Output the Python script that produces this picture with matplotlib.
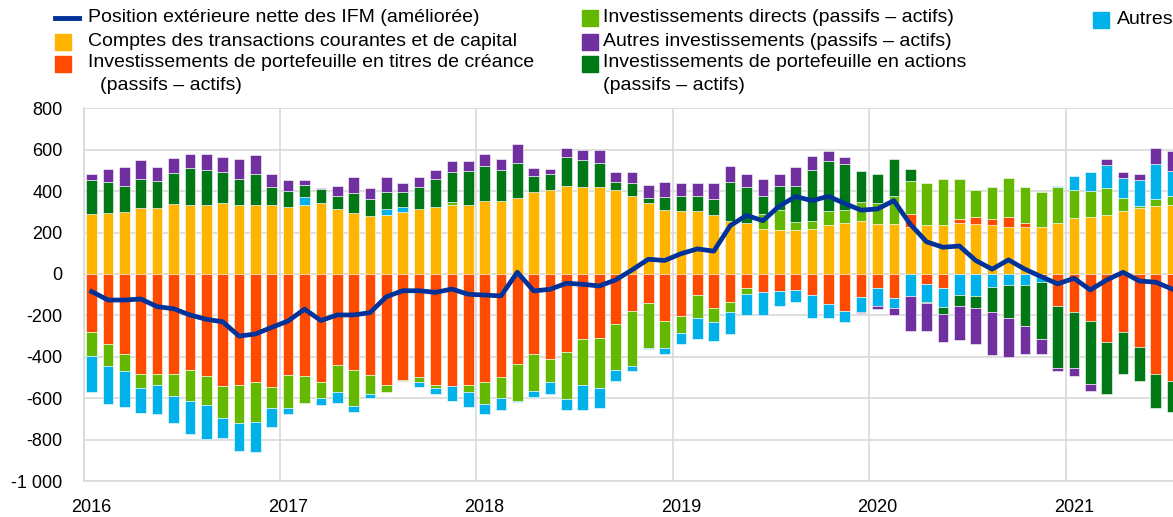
import numpy as np
import pandas as pd
import matplotlib
matplotlib.use('agg')
import matplotlib.pyplot as plt
from matplotlib.patches import Rectangle
from matplotlib.lines import Line2D

plt.rcParams['font.family'] = ['Liberation Sans', 'DejaVu Sans']

## Data (EUR bn), monthly 2016-01 .. 2021-07
months = pd.date_range('2016-01-01', '2021-07-01', freq='MS')

current_capital = [289, 294, 300, 318, 318, 340, 335, 335, 342, 335, 335, 335,
                   324, 335, 342, 313, 294, 282, 287, 300, 313, 323, 335, 335,
                   353, 353, 365, 395, 406, 424, 419, 419, 406, 376, 342, 311,
                   305, 305, 287, 258, 245, 218, 210, 210, 218, 234, 245, 258,
                   240, 240, 229, 234, 234, 245, 240, 234, 227, 227, 227, 247,
                   269, 276, 287, 305, 318, 329, 335]
portfolio_debt = [-279, -339, -387, -481, -481, -481, -465, -494, -542, -537, -524, -548,
                  -489, -494, -524, -440, -465, -489, -537, -513, -500, -537, -542, -537,
                  -524, -500, -433, -387, -411, -376, -316, -310, -244, -179, -142, -226,
                  -203, -102, -166, -135, -69, -89, -82, -77, -100, -147, -177, -111,
                  -69, -118, 60, -47, -69, 19, 35, 31, 48, 19, -10, -153,
                  -184, -226, -327, -279, -352, -482, -518]
direct_inv = [-115, -106, -84, -68, -56, -108, -150, -137, -153, -182, -190, -100,
              -160, -129, -74, -131, -173, -89, -34, -5, -24, -16, 11, -34,
              -102, -97, -180, -179, -113, -226, -221, -239, -221, -268, -216, -131,
              -82, -113, -65, -48, -29, 71, 100, 42, 40, 71, 65, 90,
              102, 137, 161, 203, 226, 195, 131, 155, 190, 173, 168, 173,
              137, 126, 126, 61, 11, 35, 42]
others = [-176, -184, -171, -123, -140, -131, -158, -166, -95, -135, -148, -89,
          -29, 35, -35, -52, -29, -21, 29, 23, -23, -29, -71, -71,
          -52, -61, -5, -29, -58, -53, -118, -100, -53, -23, -5, -31,
          -53, -100, -95, -106, -100, -110, -71, -58, -113, -66, -53, -71,
          -84, -48, -106, -88, -92, -102, -106, -65, -53, -53, -30, 6,
          66, 89, 113, 95, 126, 168, 119]
portfolio_equity = [166, 150, 126, 142, 131, 148, 179, 166, 148, 124, 150, 84,
                    77, 58, 66, 65, 97, 79, 79, 73, 105, 137, 144, 161,
                    168, 150, 171, 77, 77, 139, 131, 118, 37, 61, 23, 60,
                    73, 73, 73, 185, 173, 89, 116, 174, 244, 239, 221, 150,
                    142, 177, 58, -7, -32, -52, -60, -119, -160, -197, -276, -303,
                    -269, -305, -255, -203, -166, -166, -148]
other_inv = [29, 65, 90, 90, 66, 74, 65, 77, 73, 97, 89, 66,
             53, 26, 5, 48, 77, 52, 73, 42, 48, 42, 55, 48,
             60, 53, 92, 42, 24, 47, 47, 60, 47, 53, 66, 71,
             60, 60, 77, 77, 66, 82, 58, 89, 66, 48, 32, -6,
             -16, -34, -171, -135, -137, -166, -173, -208, -190, -135, -69, -11,
             -40, -34, 31, 29, 29, 77, 100]
net_position = [-85, -126, -126, -121, -158, -168, -198, -219, -231, -300, -290, -258,
                -227, -170, -225, -198, -198, -187, -110, -81, -81, -89, -73, -98,
                -102, -106, 8, -82, -74, -45, -50, -58, -29, 19, 71, 65,
                98, 121, 110, 233, 283, 257, 328, 374, 354, 375, 340, 308,
                314, 354, 240, 155, 129, 135, 65, 23, 68, 23, -13, -48,
                -21, -77, -29, 8, -34, -40, -73]

series = [
    (current_capital, '#FFB400'),
    (portfolio_debt, '#FF4B00'),
    (direct_inv, '#65B800'),
    (others, '#00B1EA'),
    (portfolio_equity, '#007816'),
    (other_inv, '#7030A0'),
]

x = np.arange(len(months))

fig = plt.figure(figsize=(11.73, 5.17), dpi=100)
ax = fig.add_axes([83.5 / 1173, 36 / 517, (1173 - 83.5) / 1173, 372.7 / 517])

## stacked bars, positives and negatives stacked separately
pos_base = np.zeros(len(x))
neg_base = np.zeros(len(x))
for vals, col in series:
    v = np.array(vals, dtype=float)
    base = np.where(v >= 0, pos_base, neg_base)
    ax.bar(x, v, bottom=base, width=0.65, color=col, edgecolor='white',
           linewidth=0.4, zorder=2)
    pos_base += np.where(v > 0, v, 0)
    neg_base += np.where(v < 0, v, 0)

ax.plot(x, net_position, color='#003299', linewidth=3.4, zorder=3)

## axes
ax.set_ylim(-1000, 800)
ax.set_xlim(-0.5, 66.05)
yt = np.arange(-1000, 801, 200)
ax.set_yticks(yt)
ax.set_yticklabels(['{:,}'.format(v).replace(',', ' ') for v in yt], fontsize=13)
jan = np.where(months.month == 1)[0]
ax.set_xticks(jan)
ax.set_xticklabels([str(d.year) for d in months[jan]], fontsize=13)
ax.tick_params(length=0, pad=13)
ax.tick_params(axis='y', pad=15)

for v in yt:
    ax.axhline(v, color='#d9d9d9', linewidth=1.2, zorder=1)
for j in jan:
    ax.axvline(j - 0.5, color='#d9d9d9', linewidth=1.2, zorder=1)
for s in ['top', 'right']:
    ax.spines[s].set_visible(False)
for s in ['left', 'bottom']:
    ax.spines[s].set_color('#d9d9d9')
    ax.spines[s].set_linewidth(1.2)

## legend (drawn by hand to follow the original layout)
W, H = 1173.0, 517.0
fs = 14
def sq(px, py, col):
    fig.add_artist(Rectangle((px / W, 1 - (py + 8) / H), 16 / W, 16 / H,
                             color=col, transform=fig.transFigure))
def txt(px, py, s):
    fig.text(px / W, 1 - py / H, s, fontsize=fs, va='center', ha='left')

fig.add_artist(Line2D([55 / W, 79 / W], [1 - 18 / H, 1 - 18 / H], color='#003299',
                      linewidth=3.5, transform=fig.transFigure))
txt(88, 18, 'Position extérieure nette des IFM (améliorée)')
sq(55, 42, '#FFB400')
txt(88, 41, 'Comptes des transactions courantes et de capital')
sq(55, 64, '#FF4B00')
txt(88, 63, 'Investissements de portefeuille en titres de créance')
txt(100, 85, '(passifs – actifs)')

sq(582, 18, '#65B800')
txt(603, 18, 'Investissements directs (passifs – actifs)')
sq(582, 42, '#7030A0')
txt(603, 41, 'Autres investissements (passifs – actifs)')
sq(582, 64, '#007816')
txt(603, 63, 'Investissements de portefeuille en actions')
txt(603, 85, '(passifs – actifs)')

sq(1093, 20, '#00B1EA')
txt(1117, 20, 'Autres')

fig.savefig('out.png', dpi=100)
